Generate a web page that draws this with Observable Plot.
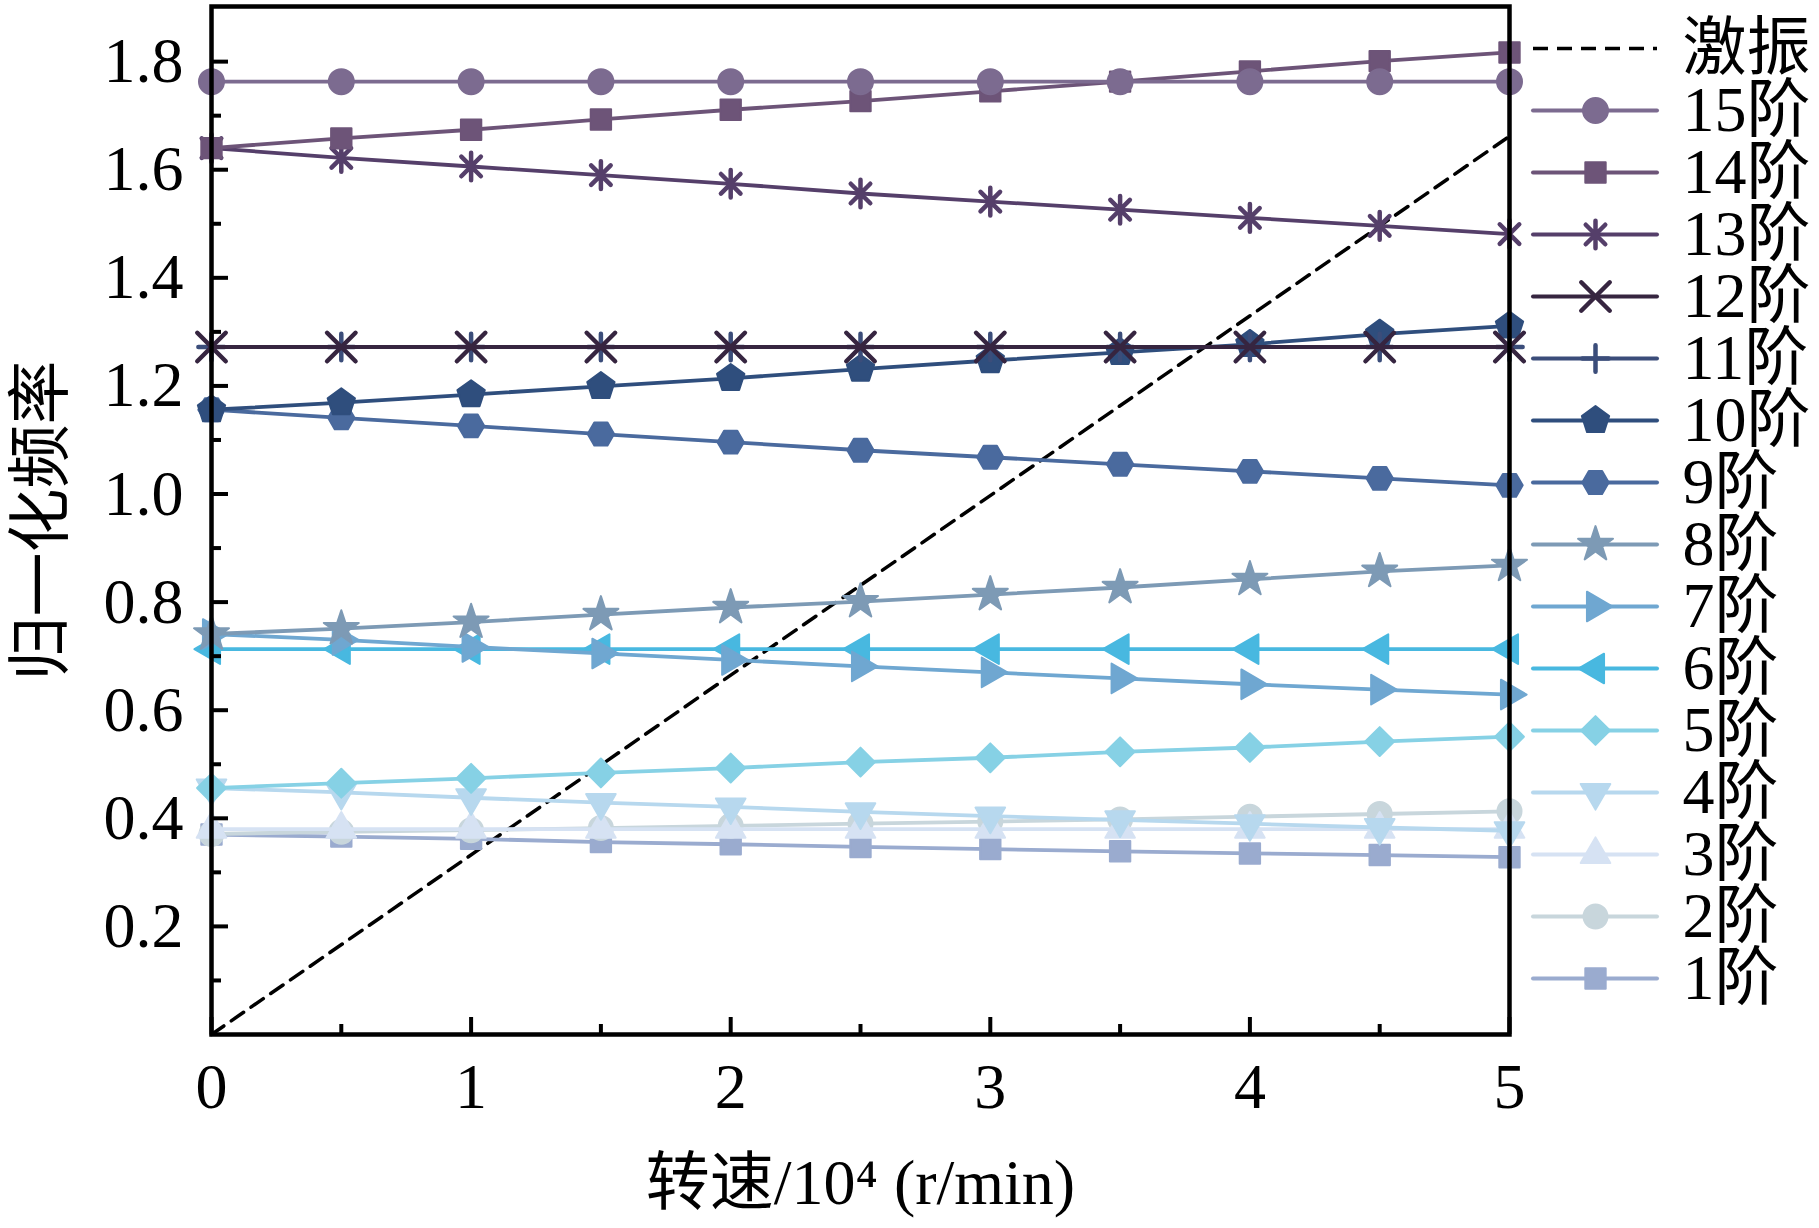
<!DOCTYPE html>
<html>
<head>
<meta charset="utf-8">
<script src="https://cdn.jsdelivr.net/npm/d3@7"></script>
<script src="https://cdn.jsdelivr.net/npm/@observablehq/plot@0.6"></script>
<style>
  html, body { margin: 0; padding: 0; background: #fff; }
  #wrap { position: relative; width: 1819px; height: 1228px; }
  #wrap > svg { position: absolute; top: 0; }
</style>
</head>
<body>
<div id="wrap"></div>
<script>
// ---------- data ----------
const speeds = [0, 0.5, 1, 1.5, 2, 2.5, 3, 3.5, 4, 4.5, 5];
const mode1  = [0.370, 0.366, 0.362, 0.356, 0.352, 0.347, 0.343, 0.339, 0.335, 0.332, 0.328];
const mode2  = [0.371, 0.375, 0.378, 0.382, 0.386, 0.390, 0.394, 0.398, 0.403, 0.408, 0.413];
const mode3  = [0.380, 0.380, 0.380, 0.380, 0.380, 0.380, 0.380, 0.380, 0.380, 0.380, 0.380];
const mode4  = [0.456, 0.448, 0.438, 0.429, 0.421, 0.412, 0.404, 0.397, 0.390, 0.383, 0.377];
const mode5  = [0.456, 0.465, 0.474, 0.484, 0.493, 0.504, 0.512, 0.523, 0.531, 0.542, 0.551];
const mode6  = [0.713, 0.713, 0.713, 0.713, 0.713, 0.713, 0.713, 0.713, 0.713, 0.713, 0.713];
const mode7  = [0.741, 0.730, 0.717, 0.705, 0.693, 0.681, 0.670, 0.659, 0.648, 0.638, 0.629];
const mode8  = [0.741, 0.751, 0.763, 0.777, 0.790, 0.801, 0.814, 0.827, 0.842, 0.857, 0.868];
const mode9  = [1.156, 1.141, 1.126, 1.111, 1.096, 1.081, 1.068, 1.055, 1.042, 1.029, 1.016];
const mode10 = [1.156, 1.169, 1.184, 1.199, 1.214, 1.231, 1.247, 1.262, 1.277, 1.296, 1.311];
const mode11 = [1.272, 1.272, 1.272, 1.272, 1.272, 1.272, 1.272, 1.272, 1.272, 1.272, 1.272];
const mode12 = [1.272, 1.272, 1.272, 1.272, 1.272, 1.272, 1.272, 1.272, 1.272, 1.272, 1.272];
const mode13 = [1.640, 1.622, 1.606, 1.590, 1.574, 1.556, 1.541, 1.526, 1.511, 1.496, 1.481];
const mode14 = [1.640, 1.658, 1.674, 1.693, 1.711, 1.727, 1.745, 1.763, 1.782, 1.801, 1.817];
const mode15 = [1.763, 1.763, 1.763, 1.763, 1.763, 1.763, 1.763, 1.763, 1.763, 1.763, 1.763];
const excitationX = [0, 5];
const excitationY = [0, 1.662];

const seriesNames = ["1阶","2阶","3阶","4阶","5阶","6阶","7阶","8阶","9阶","10阶","11阶","12阶","13阶","14阶","15阶"];
const seriesValues = [mode1, mode2, mode3, mode4, mode5, mode6, mode7, mode8, mode9, mode10, mode11, mode12, mode13, mode14, mode15];
const seriesColors = ["#9aabcf","#c8d6dc","#d6e2f3","#b7d8ee","#86d1e5","#48b8e0","#6fa7d1","#7d9ab5","#4a6a9e","#2f4e7d","#3b4d7a","#362540","#553f6a","#6d5478","#7c6b90"];
const excitationName = "激振";

const xTicks = [0, 1, 2, 3, 4, 5];
const xMinorTicks = [0.5, 1.5, 2.5, 3.5, 4.5];
const yTicks = [0.2, 0.4, 0.6, 0.8, 1.0, 1.2, 1.4, 1.6, 1.8];
const yMinorTicks = [0.1, 0.3, 0.5, 0.7, 0.9, 1.1, 1.3, 1.5, 1.7];
const xLabel = "转速/10⁴ (r/min)";
const yLabel = "归一化频率";

// ---------- symbols ----------
function polygon(n, rot) {
  return { draw(ctx, size) {
    const R = Math.sqrt(size / (n / 2 * Math.sin(2 * Math.PI / n)));
    for (let i = 0; i < n; i++) {
      const a = rot + 2 * Math.PI * i / n;
      const px = R * Math.sin(a), py = -R * Math.cos(a);
      if (i) ctx.lineTo(px, py); else ctx.moveTo(px, py);
    }
    ctx.closePath();
  }};
}
const asterisk = { draw(ctx, size) {
  const R = Math.sqrt(size) * 0.6;
  const d = R * Math.SQRT1_2;
  ctx.moveTo(0, -R); ctx.lineTo(0, R);
  ctx.moveTo(-d, -d); ctx.lineTo(d, d);
  ctx.moveTo(-d, d); ctx.lineTo(d, -d);
}};
// [symbol, r, filled]
const seriesSymbols = [
  [d3.symbolSquare, 11.5, true],      // 1
  [d3.symbolCircle, 12, true],        // 2
  [polygon(3, 0), 11, true],          // 3 up
  [polygon(3, Math.PI), 11, true],    // 4 down
  [polygon(4, 0), 11.5, true],        // 5 diamond
  [polygon(3, -Math.PI / 2), 11, true], // 6 left
  [polygon(3, Math.PI / 2), 11, true],  // 7 right
  [d3.symbolStar, 11, true],          // 8 star
  [polygon(6, Math.PI / 2), 12, true],// 9 hexagon
  [polygon(5, 0), 12.5, true],        // 10 pentagon
  [d3.symbolPlus, 8.5, false],        // 11 plus
  [d3.symbolTimes, 13, false],        // 12 times
  [asterisk, 13, false],              // 13 asterisk
  [d3.symbolSquare, 11.5, true],      // 14 square
  [d3.symbolCircle, 12.5, true]       // 15 circle
];

const FONT = "'Liberation Serif', 'Times New Roman', 'Noto Sans CJK SC', serif";
const FS = 64;
const LINE_W = 3.8;

function dotOpts(i, extra) {
  const [sym, r, filled] = seriesSymbols[i];
  const c = seriesColors[i];
  return Object.assign(filled
    ? { symbol: sym, r, fill: c, stroke: c, strokeWidth: 2, strokeLinejoin: "round" }
    : { symbol: sym, r, fill: "none", stroke: c, strokeWidth: 4.5, strokeLinecap: "round" }, extra);
}

// ---------- main chart ----------
const marks = [];
marks.push(Plot.line(excitationX.map((x, i) => ({ x, y: excitationY[i] })), {
  x: "x", y: "y", stroke: "black", strokeWidth: 3.5, strokeDasharray: "15,9"
}));
seriesValues.forEach((vals, i) => {
  const data = speeds.map((x, j) => ({ x, y: vals[j] }));
  marks.push(Plot.line(data, { x: "x", y: "y", stroke: seriesColors[i], strokeWidth: LINE_W }));
  marks.push(Plot.dot(data, dotOpts(i, { x: "x", y: "y" })));
});
marks.push(
  Plot.axisX({ ticks: xTicks, tickSize: -17, tickPadding: 45, tickFormat: d => d, strokeWidth: 4,
    fontSize: FS, label: null }),
  Plot.axisX({ ticks: xMinorTicks, tickSize: -10, tickFormat: () => "", strokeWidth: 4, label: null }),
  Plot.axisY({ ticks: yTicks, tickSize: -17, tickPadding: 45, tickFormat: d3.format(".1f"), strokeWidth: 4,
    fontSize: FS, label: null }),
  Plot.axisY({ ticks: yMinorTicks, tickSize: -10, tickFormat: () => "", strokeWidth: 4, label: null }),
  Plot.text([xLabel], { frameAnchor: "bottom", dy: 149, textAnchor: "middle", lineAnchor: "middle", fontSize: FS, fill: "black" }),
  Plot.text([yLabel], { frameAnchor: "left", dx: -170, rotate: -90, textAnchor: "middle", lineAnchor: "middle", fontSize: FS, fill: "black" }),
  Plot.frame({ stroke: "black", strokeWidth: 4.5 })
);

const chart = Plot.plot({
  width: 1819, height: 1228,
  marginLeft: 211, marginRight: 310, marginTop: 6, marginBottom: 194,
  x: { domain: [0, 5] },
  y: { domain: [0, 1.902] },
  style: { fontFamily: FONT, fontSize: FS + "px", color: "black", background: "transparent", overflow: "visible" },
  marks
});
chart.style.left = "0px";
document.getElementById("wrap").appendChild(chart);

// ---------- legend ----------
const legendNames = [excitationName, ...seriesNames.slice().reverse()];
const legendMarks = [
  Plot.ruleY([excitationName], { y: d => d, x1: 0, x2: 1, stroke: "black", strokeWidth: 3.5, strokeDasharray: "15,9" })
];
for (let i = seriesNames.length - 1; i >= 0; i--) {
  legendMarks.push(Plot.ruleY([seriesNames[i]], { y: d => d, x1: 0, x2: 1, stroke: seriesColors[i], strokeWidth: 4, strokeLinecap: "round" }));
  legendMarks.push(Plot.dot([seriesNames[i]], dotOpts(i, { y: d => d, x: 0.5 })));
}
legendMarks.push(Plot.text(legendNames, { y: d => d, x: 1, text: d => d, dx: 25, textAnchor: "start", fontSize: FS, fill: "black" }));

const legend = Plot.plot({
  width: 310, height: 1228,
  marginLeft: 24, marginRight: 162, marginTop: 42, marginBottom: 244,
  x: { domain: [0, 1], axis: null },
  y: { type: "point", domain: legendNames, padding: 0, axis: null },
  style: { fontFamily: FONT, fontSize: FS + "px", color: "black", background: "transparent", overflow: "visible" },
  marks: legendMarks
});
legend.style.left = "1509px";
document.getElementById("wrap").appendChild(legend);
</script>
</body>
</html>
